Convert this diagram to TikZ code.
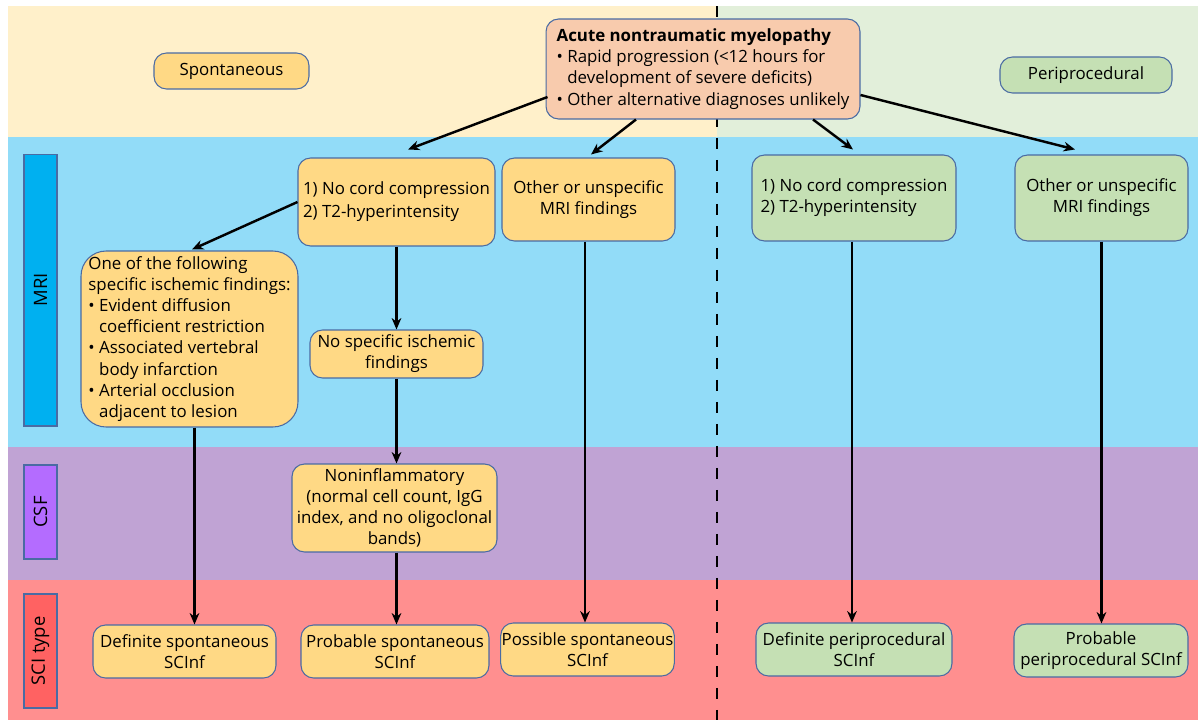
\documentclass[tikz,border=0pt]{standalone}
\usepackage{fontspec}
\setmainfont{Open Sans}
\usetikzlibrary{arrows.meta,positioning,calc}
\definecolor{edge}{HTML}{4A6BA3}
\definecolor{spont}{HTML}{FFD985}
\definecolor{peri}{HTML}{C5E0B4}
\definecolor{acute}{HTML}{F8CBAD}
\definecolor{creamband}{HTML}{FFF0CA}
\definecolor{greenband}{HTML}{E2EFDA}
\definecolor{mriband}{HTML}{92DCF8}
\definecolor{csfband}{HTML}{C0A3D4}
\definecolor{sciband}{HTML}{FF8F8F}
\definecolor{mrilab}{HTML}{00B0F0}
\definecolor{csflab}{HTML}{B46CFF}
\definecolor{scilab}{HTML}{FF6262}

\begin{document}
\begin{tikzpicture}[x=0.02cm, y=-0.02cm,
  box/.style={draw=edge, line width=0.6pt, rounded corners=0.25cm, align=center, inner sep=0.5pt, font=\fontsize{9.6}{12}\selectfont, fill=#1},
  tag/.style={draw=edge, line width=0.6pt, fill=#1, rotate=90, inner sep=0pt, minimum height=0.66cm, font=\fontsize{10.5}{12}\selectfont},
  arrow/.style={-{Stealth[length=6.5pt, width=5.5pt]}, line width=1.4pt},
]
\useasboundingbox (0,0) rectangle (1198,720);
% background bands
\fill[white] (0,0) rectangle (1198,720);
\fill[creamband] (8,6) rectangle (717,137);
\fill[greenband] (717,6) rectangle (1198,137);
\fill[mriband] (8,137) rectangle (1198,447);
\fill[csfband] (8,447) rectangle (1198,580);
\fill[sciband] (8,580) rectangle (1198,720);
\draw[line width=1.1pt, dash pattern=on 0.22cm off 0.22cm] (717,6) -- (717,720);

% row labels
\node[tag=mrilab, minimum width=5.44cm] (mri) at (40.5,290) {MRI};
\node[tag=csflab, minimum width=1.88cm] (csf) at (40.5,512) {CSF};
\node[tag=scilab, minimum width=2.28cm] (sci) at (40.5,651) {SCI type};

% top row
\node[box=spont, minimum width=3.1cm, minimum height=0.72cm] (spon) at (231.5,71) {Spontaneous};
\node[box=peri, minimum width=3.44cm, minimum height=0.72cm] (peri) at (1086,75) {Periprocedural};
\node[box=acute, align=left, minimum width=6.28cm, minimum height=2cm] (acute) at (703,69)
  {\textbf{Acute nontraumatic myelopathy}\\
   • Rapid progression (<12 hours for\\
   \phantom{•\ }development of severe deficits)\\
   • Other alternative diagnoses unlikely};

% MRI row
\node[box=spont, align=left, minimum width=3.94cm, minimum height=1.76cm, font=\fontsize{9.6}{13}\selectfont] (comp1) at (396.5,202)
  {1) No cord compression\\2) T2-hyperintensity};
\node[box=spont, minimum width=3.46cm, minimum height=1.66cm] (other1) at (588.5,199.5)
  {Other or unspecific\\MRI findings};
\node[box=spont, align=left, rounded corners=0.5cm, minimum width=4.34cm, minimum height=3.52cm] (spec) at (189.5,339)
  {One of the following\\
   specific ischemic findings:\\
   • Evident diffusion\\
   \phantom{•\ }coefficient restriction\\
   • Associated vertebral\\
   \phantom{•\ }body infarction\\
   • Arterial occlusion\\
   \phantom{•\ }adjacent to lesion};
\node[box=spont, minimum width=3.46cm, minimum height=0.96cm] (nospec) at (396.5,354)
  {No specific ischemic\\findings};
\node[box=peri, align=left, minimum width=4.08cm, minimum height=1.72cm] (comp2) at (854,198)
  {1) No cord compression\\2) T2-hyperintensity};
\node[box=peri, minimum width=3.46cm, minimum height=1.72cm] (other2) at (1101.5,198)
  {Other or unspecific\\MRI findings};

% CSF row
\node[box=spont, minimum width=4.1cm, minimum height=1.76cm] (noninf) at (394.5,508)
  {Noninflammatory\\(normal cell count, IgG\\index, and no oligoclonal\\bands)};

% SCI type row
\node[box=spont, minimum width=3.66cm, minimum height=1.06cm] (defsp) at (184.5,651.5)
  {Definite spontaneous\\SCInf};
\node[box=spont, minimum width=3.76cm, minimum height=1.06cm] (probsp) at (395,651.5)
  {Probable spontaneous\\SCInf};
\node[box=spont, minimum width=3.46cm, minimum height=1.06cm] (posssp) at (587.5,649.5)
  {Possible spontaneous\\SCInf};
\node[box=peri, minimum width=3.92cm, minimum height=1.06cm] (defpp) at (854,649.5)
  {Definite periprocedural\\SCInf};
\node[box=peri, minimum width=3.48cm, minimum height=1.06cm] (probpp) at (1101,650.5)
  {Probable\\periprocedural SCInf};

% arrows
\draw[arrow] ($(acute.west)+(2,28)$) -- ($(comp1.north)+(11.5,-8)$);
\draw[arrow] ($(acute.south)+(-67,0)$) -- ($(other1.north)+(2.5,-3)$);
\draw[arrow] ($(acute.south)+(110,0)$) -- ($(comp2.north)+(-1,-5)$);
\draw[arrow] ($(acute.east)+(0,26)$) -- ($(other2.north)+(-26.5,-5)$);
\draw[arrow] (comp1.west) -- ($(spec.north)+(2.5,-1)$);
\draw[arrow] (comp1.south) -- (comp1.south |- nospec.north);
\draw[arrow] (nospec.south -| comp1.south) -- (comp1.south |- noninf.north);
\draw[arrow] (noninf.south -| comp1.south) -- (comp1.south |- probsp.north);
\draw[arrow] ([xshift=0.1cm]spec.south) -- ([xshift=0.1cm]spec.south |- defsp.north);
\draw[arrow] ([xshift=-0.07cm]other1.south) -- ([xshift=-0.07cm]other1.south |- posssp.north);
\draw[arrow] ([xshift=-0.04cm]comp2.south) -- ([xshift=-0.04cm]comp2.south |- defpp.north);
\draw[arrow] (other2.south) -- (other2.south |- probpp.north);
\end{tikzpicture}
\end{document}
